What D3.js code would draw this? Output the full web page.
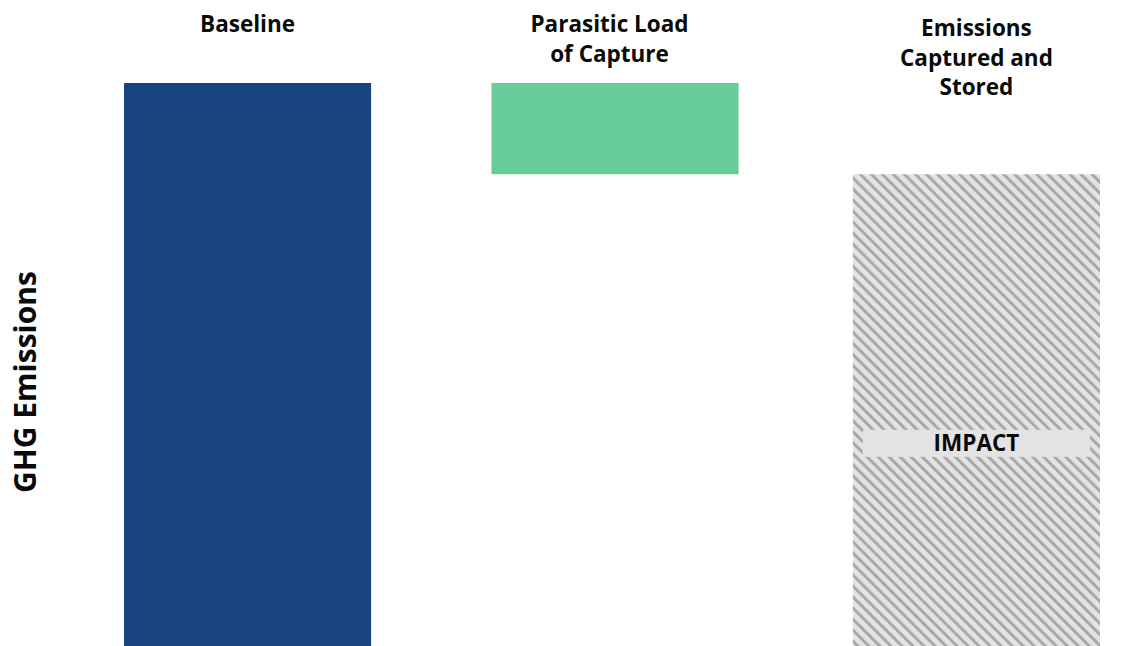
<!DOCTYPE html>
<html>
<head>
<meta charset="utf-8">
<script src="https://cdn.jsdelivr.net/npm/d3@7"></script>
<style>
  html, body { margin: 0; padding: 0; background: #fff; }
  svg { display: block; }
  text { font-family: "Open Sans", "Noto Sans", sans-serif; }
</style>
</head>
<body>
<div id="chart"></div>
<script>
// ---- data ----
const categories = ["Baseline", "Parasitic Load of Capture", "Emissions Captured and Stored"];
const labelLines = [["Baseline"], ["Parasitic Load", "of Capture"], ["Emissions", "Captured and", "Stored"]];
const barStart = [0, 100, 0];
const barEnd = [100, 83.8, 83.8];
const yAxisTitle = "GHG Emissions";
const impactLabel = "IMPACT";
const impactValue = 36;

// ---- layout ----
const W = 1142, H = 646;
const svg = d3.select("#chart").append("svg").attr("width", W).attr("height", H);

const x = d3.scaleBand().domain(categories).range([124, 1100]).paddingInner(0.322).paddingOuter(0);
const y = d3.scaleLinear().domain([0, 100]).range([646, 83]);
const barShift = [0, 3, 0];

const colors = ["#174480", "#66cc99", "url(#hatch)"];

const defs = svg.append("defs");
const pat = defs.append("pattern")
  .attr("id", "hatch")
  .attr("patternUnits", "userSpaceOnUse")
  .attr("width", 7.8).attr("height", 7.8)
  .attr("patternTransform", "rotate(-45)");
pat.append("rect").attr("width", 7.8).attr("height", 7.8).attr("fill", "#e3e3e3");
pat.append("rect").attr("x", 0).attr("width", 3).attr("height", 7.8).attr("fill", "#a8a8a8");

svg.selectAll("rect.bar")
  .data(categories)
  .join("rect")
  .attr("class", "bar")
  .attr("x", (d, i) => x(d) + barShift[i])
  .attr("width", x.bandwidth())
  .attr("y", (d, i) => y(Math.max(barStart[i], barEnd[i])))
  .attr("height", (d, i) => Math.abs(y(barStart[i]) - y(barEnd[i])))
  .attr("fill", (d, i) => colors[i]);

// category titles
const titleOffsets = [32, 32, 36];
const titleDx = [0, -2.5, 0];
categories.forEach((c, i) => {
  const t = svg.append("text")
    .attr("text-anchor", "middle")
    .attr("font-size", 22.5)
    .attr("font-weight", 700)
    .attr("fill", "#0a0a0a");
  labelLines[i].forEach((ln, j) => {
    t.append("tspan")
      .attr("x", x(c) + x.bandwidth() / 2 + titleDx[i])
      .attr("y", titleOffsets[i] + j * 29.5)
      .text(ln);
  });
});

// IMPACT label
const last = categories[2];
const impY = y(impactValue);
svg.append("rect")
  .attr("x", x(last) + 10)
  .attr("width", x.bandwidth() - 20)
  .attr("y", impY - 13.5)
  .attr("height", 27)
  .attr("fill", "#e3e3e3");
svg.append("text")
  .attr("x", x(last) + x.bandwidth() / 2)
  .attr("y", impY + 8)
  .attr("text-anchor", "middle")
  .attr("font-size", 22.5)
  .attr("font-weight", 700)
  .attr("fill", "#0a0a0a")
  .text(impactLabel);

// y axis title
svg.append("text")
  .attr("transform", `translate(36, ${382}) rotate(-90)`)
  .attr("text-anchor", "middle")
  .attr("font-size", 30)
  .attr("font-weight", 700)
  .attr("fill", "#0a0a0a")
  .text(yAxisTitle);
</script>
</body>
</html>
